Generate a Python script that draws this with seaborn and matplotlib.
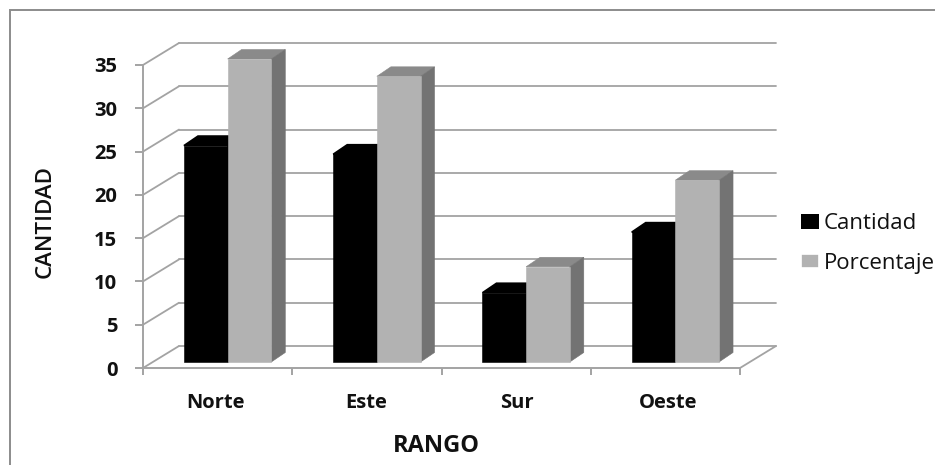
import matplotlib
matplotlib.use("Agg")
import matplotlib.pyplot as plt
from matplotlib.patches import Polygon, Rectangle
from matplotlib.transforms import Affine2D
import pandas as pd
import seaborn as sns

# Values
rangos = ["Norte", "Este", "Sur", "Oeste"]
cantidad = [25, 24, 8, 15]
porcentaje = [35, 33, 11, 21]
y_ticks = [0, 5, 10, 15, 20, 25, 30, 35]

W, H = 935, 465
GRID = "#a3a3a3"
BLACK, LIGHT = "#000000", "#b2b2b2"
SHADE_TOP = {BLACK: "#000000", LIGHT: "#8a8a8a"}
SHADE_SIDE = {BLACK: "#000000", LIGHT: "#737373"}
FONT = "Open Sans"

sns.set_theme(style="white")
plt.rcParams["font.family"] = [FONT, "DejaVu Sans"]

df = pd.DataFrame({"Rango": rangos * 2,
                   "Serie": ["Cantidad"] * 4 + ["Porcentaje"] * 4,
                   "Valor": cantidad + porcentaje})

fig = plt.figure(figsize=(W / 100, H / 100), dpi=100)

# Outer chart border, open on the right and at the bottom
fig.add_artist(Rectangle((9.5 / W, -0.02), 1.05, 1.02 - 10.5 / H,
                         transform=fig.transFigure, fill=False,
                         edgecolor="#8c8c8c", linewidth=1.4))

# Front plane of the perspective box
left, right, top, bottom = 143, 740, 65, 368
ax = fig.add_axes([left / W, 1 - bottom / H, (right - left) / W, (bottom - top) / H])
ax.patch.set_alpha(0)

sns.barplot(data=df, x="Rango", y="Valor", hue="Serie", order=rangos,
            palette=[BLACK, LIGHT], width=0.585, gap=0, saturation=1, ax=ax,
            linewidth=0, zorder=5)
ax.set_xlim(-0.5, 3.5)
ax.set_ylim(0, 35)

px_x = 4 / (right - left)
px_y = 35 / (bottom - top)

# Wall depth and bar placement within the depth of the floor
wall_dx, wall_dy = 36 * px_x, 22 * px_y
plane_dx, plane_dy = 10 * px_x, 6 * px_y
bar_dx, bar_dy = 14 * px_x, 9.5 * px_y

line = dict(color=GRID, linewidth=1.3, clip_on=False, zorder=1, solid_capstyle="round")
for v in y_ticks:
    ax.plot([-0.5, -0.5 + wall_dx], [v, v + wall_dy], **line)
    ax.plot([-0.5 + wall_dx, 3.5 + wall_dx], [v + wall_dy, v + wall_dy], **line)
ax.plot([3.5, 3.5 + wall_dx], [0, wall_dy], **line)

# Move the bars back from the front edge and give them depth
shift = Affine2D().translate(plane_dx, plane_dy) + ax.transData
for container in ax.containers:
    for bar in container:
        x0, w, h = bar.get_x(), bar.get_width(), bar.get_height()
        col = matplotlib.colors.to_hex(bar.get_facecolor())
        bar.set_transform(shift)
        bar.set_clip_on(False)
        bar.set_edgecolor(col)
        bar.set_linewidth(0.4)
        top_face = [(x0, h), (x0 + w, h), (x0 + w + bar_dx, h + bar_dy), (x0 + bar_dx, h + bar_dy)]
        side_face = [(x0 + w, 0), (x0 + w + bar_dx, bar_dy), (x0 + w + bar_dx, h + bar_dy), (x0 + w, h)]
        z = 3 if col == BLACK else 4
        seam = 1.2 if col == BLACK else 0.4
        bar.set_zorder(z + 0.5)
        ax.add_patch(Polygon(top_face, closed=True, facecolor=SHADE_TOP[col],
                             edgecolor=SHADE_TOP[col], linewidth=seam,
                             transform=shift, clip_on=False, zorder=z))
        ax.add_patch(Polygon(side_face, closed=True, facecolor=SHADE_SIDE[col],
                             edgecolor=SHADE_SIDE[col], linewidth=0.4,
                             transform=shift, clip_on=False, zorder=z))

# Axes, ticks and labels
sns.despine(ax=ax, top=True, right=True)
for s in ("left", "bottom"):
    ax.spines[s].set_color(GRID)
    ax.spines[s].set_linewidth(1.4)
    ax.spines[s].set_zorder(6)
ax.set_yticks(y_ticks)
ax.set_yticklabels([str(v) for v in y_ticks], fontsize=14.5, fontweight="bold", color="#111111")
ax.set_xticks([-0.5, 0.5, 1.5, 2.5, 3.5])
ax.set_xticklabels([])
ax.tick_params(axis="y", length=6, width=1.4, color=GRID, left=True, pad=12.5)
ax.tick_params(axis="x", length=5, width=1.4, color=GRID, bottom=True)
for i, name in enumerate(rangos):
    ax.annotate(name, (i * 1.01, 0), xytext=(-2, -35), textcoords="offset pixels", ha="center",
                va="center", fontsize=14.5, fontweight="bold", color="#111111",
                annotation_clip=False)
ax.set_xlabel("")
ax.set_ylabel("")

fig.text(436 / W, 1 - 446 / H, "RANGO", ha="center", va="center",
         fontsize=17, fontweight="bold", color="#111111")
fig.text(45 / W, 1 - 222 / H, "CANTIDAD", ha="center", va="center", rotation=90,
         fontsize=16, fontweight="semibold", color="#111111")

handles, labels = ax.get_legend_handles_labels()
legend = ax.legend(handles, labels, loc="upper left", bbox_to_anchor=(801 / W, 1 - 213 / H),
                   bbox_transform=fig.transFigure, frameon=False, borderpad=0, borderaxespad=0,
                   handlelength=0.8, handleheight=0.65, handletextpad=0.22, labelspacing=0.85,
                   prop={"family": FONT, "size": 16}, labelcolor="#111111")
for handle in legend.legend_handles[1:]:
    handle.set_edgecolor("white")
    handle.set_linewidth(1.2)

fig.savefig("out.png", dpi=100)
